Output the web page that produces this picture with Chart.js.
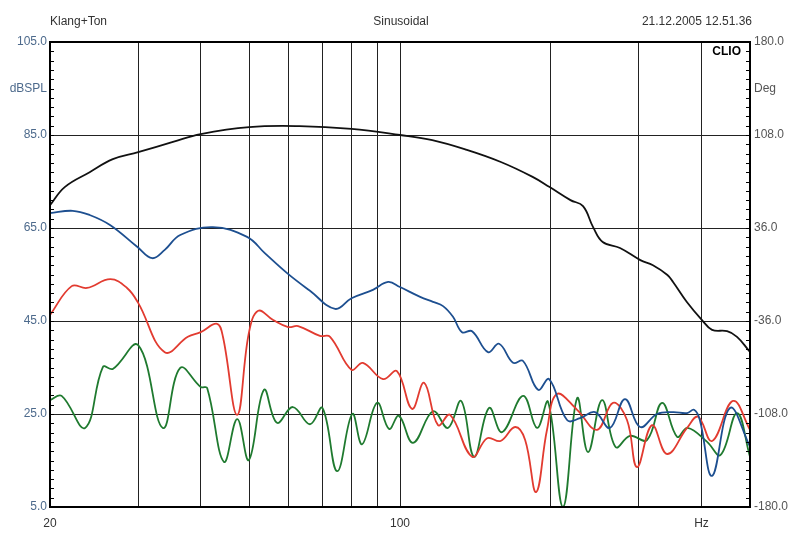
<!DOCTYPE html>
<html>
<head>
<meta charset="utf-8">
<script src="https://cdn.jsdelivr.net/npm/chart.js@4"></script>
<style>
  body { margin: 0; background: #fff; }
  canvas { display: block; }
</style>
</head>
<body>
<canvas id="clio" width="800" height="560"></canvas>
<script>
// kopregel van de meting
const headerLeft = 'Klang+Ton';
const headerMid = 'Sinusoidal';
const headerRight = '21.12.2005 12.51.36';

// assen
const xTicks = [20, 30, 40, 50, 60, 70, 80, 90, 100, 200, 300, 400, 500];
const xLabels = { 20: '20', 100: '100', 400: 'Hz' };
const dbTicks = [5, 25, 45, 65, 85, 95, 105];
const degTicks = [-180, -108, -36, 36, 108, 144, 180];

// zwarte curve
const blackFreq = [20, 21.4, 24, 26.7, 30, 35.2, 40, 50, 63, 80, 100, 116, 136, 159, 184, 199, 219, 232, 243, 254, 275, 302, 320, 342, 351, 374, 401, 420, 450, 471, 496, 500];
const blackLevel = [69.9, 73.8, 77.0, 79.8, 81.3, 83.5, 85.2, 86.7, 86.9, 86.3, 85.0, 83.9, 81.8, 79.2, 76.0, 73.8, 71.0, 69.7, 65.2, 62.0, 60.7, 58.1, 57.0, 54.9, 53.4, 49.1, 45.2, 43.1, 42.8, 41.6, 38.8, 38.3];

// blauwe curve
const blueFreq = [20, 22.2, 24, 26.4, 29.9, 32, 33.9, 36.4, 42.3, 49.5, 53.7, 59.5, 66.1, 74.2, 80, 88.3, 94.7, 100, 109.7, 116.4, 121.9, 127.6, 133, 139.3, 149.9, 157.7, 168.2, 176.1, 188.7, 198.5, 215.6, 228.9, 245.2, 262.6, 281.4, 301.6, 326.1, 351.1, 374.3, 386.6, 397, 420, 456, 500];
const blueLevel = [68.2, 68.7, 67.8, 65.6, 60.9, 58.5, 60.3, 63.5, 65.2, 63.1, 59.6, 55.3, 51.5, 47.6, 49.9, 51.7, 53.4, 52.3, 50.2, 49.1, 48.2, 45.9, 42.6, 42.8, 38.3, 40.1, 36.0, 36.4, 30.2, 32.5, 23.7, 24.1, 25.4, 22.0, 28.2, 22.2, 25.0, 25.4, 25.2, 25.9, 23.7, 11.7, 26.3, 18.0];

// rode curve
const redFreq = [20, 22.1, 23.7, 26.4, 28.5, 30, 33.9, 37.7, 40, 43.1, 44.3, 47.3, 49.9, 52.1, 55.8, 59.8, 62.6, 69.2, 72.5, 80, 84.3, 92.5, 98.6, 105.7, 111.7, 119.1, 125.9, 139.3, 149.3, 158.8, 169.8, 177.8, 187, 196.6, 205.8, 225.8, 247.5, 266.3, 284, 297.4, 318.7, 341.5, 374.3, 393.8, 420.1, 462.5, 500];
const redLevel = [46.3, 52.5, 52.1, 54.0, 52.1, 48.9, 38.3, 41.6, 42.6, 44.4, 41.6, 24.8, 42.4, 47.2, 45.2, 43.7, 43.9, 41.8, 41.6, 34.5, 36.0, 32.5, 34.2, 26.1, 31.7, 22.6, 24.8, 15.8, 19.8, 19.2, 22.2, 19.4, 8.2, 21.6, 29.3, 25.9, 21.6, 27.4, 23.7, 13.6, 22.6, 16.4, 22.0, 24.4, 19.2, 27.8, 21.6];

// groene curve
const greenFreq = [20, 21.1, 23.5, 25.5, 26.7, 30, 33.6, 36.4, 40, 41.2, 44.5, 47.3, 49.9, 53.5, 56.8, 61.1, 66.1, 70, 74.9, 80.3, 84, 90, 95.1, 99.5, 106.2, 116.4, 124.7, 132.5, 140.6, 150.6, 159.9, 176.1, 187.8, 197.6, 211.6, 225.8, 237.4, 253.2, 269.5, 287.9, 311.4, 333.7, 357.6, 375.2, 410.5, 436.8, 471.1, 500];
const greenLevel = [28.0, 28.9, 22.0, 35.1, 34.7, 39.8, 22.0, 34.9, 30.8, 30.6, 14.7, 23.9, 15.1, 30.2, 23.1, 26.5, 22.8, 26.3, 12.7, 25.0, 18.5, 27.4, 21.8, 24.6, 18.8, 25.6, 22.0, 27.8, 15.8, 26.3, 21.1, 28.9, 22.0, 27.6, 5.0, 28.4, 16.8, 28.0, 17.9, 20.3, 19.4, 27.4, 20.1, 22.0, 19.0, 16.2, 25.2, 15.8];

const FONT = "'Liberation Sans', Arial, sans-serif";

function toPoints(freqs, levels) {
  return freqs.map((f, i) => ({ x: f, y: levels[i] }));
}

function curve(freqs, levels, color) {
  return {
    data: toPoints(freqs, levels),
    borderColor: color,
    borderWidth: 1.8,
    pointRadius: 0,
    tension: 0.4,
    fill: false
  };
}

// kader, kleine streepjes en teksten
const framePlugin = {
  id: 'frame',
  afterDraw(chart) {
    const ctx = chart.ctx;
    const a = chart.chartArea;
    const y = chart.scales.y;
    const y1 = chart.scales.y1;
    ctx.save();
    ctx.strokeStyle = '#000';
    ctx.lineWidth = 1;
    for (let v = 5; v <= 105; v += 2) {
      const py = Math.round(y.getPixelForValue(v)) + 0.5;
      ctx.beginPath();
      ctx.moveTo(a.left, py);
      ctx.lineTo(a.left + 4, py);
      ctx.stroke();
    }
    for (let d = -180; d <= 180.01; d += 7.2) {
      const py = Math.round(y1.getPixelForValue(d)) + 0.5;
      ctx.beginPath();
      ctx.moveTo(a.right - 4, py);
      ctx.lineTo(a.right, py);
      ctx.stroke();
    }
    ctx.lineWidth = 2;
    ctx.strokeRect(a.left, a.top, a.right - a.left, a.bottom - a.top);

    ctx.fillStyle = '#333';
    ctx.font = '12px ' + FONT;
    ctx.textBaseline = 'middle';
    ctx.textAlign = 'left';
    ctx.fillText(headerLeft, 50, 22);
    ctx.textAlign = 'center';
    ctx.fillText(headerMid, 401, 22);
    ctx.textAlign = 'right';
    ctx.fillText(headerRight, 752, 22);

    ctx.fillStyle = '#000';
    ctx.font = 'bold 12px ' + FONT;
    ctx.fillText('CLIO', a.right - 9, a.top + 10);
    ctx.restore();
  }
};

new Chart(document.getElementById('clio'), {
  type: 'line',
  data: {
    datasets: [
      curve(blackFreq, blackLevel, '#111111'),
      curve(blueFreq, blueLevel, '#1d4f90'),
      curve(redFreq, redLevel, '#e23b30'),
      curve(greenFreq, greenLevel, '#1f7a2f')
    ]
  },
  options: {
    responsive: false,
    animation: false,
    layout: { padding: { top: 42, left: 0, right: 0, bottom: 0 } },
    plugins: {
      legend: { display: false },
      tooltip: { enabled: false }
    },
    scales: {
      x: {
        type: 'logarithmic',
        min: 20,
        max: 500,
        afterBuildTicks: s => { s.ticks = xTicks.map(v => ({ value: v })); },
        afterFit: s => { s.height = 53; },
        grid: { color: '#222', lineWidth: 1, drawTicks: false },
        border: { display: false },
        ticks: {
          autoSkip: false,
          maxRotation: 0,
          padding: 9,
          color: '#333',
          font: { family: FONT, size: 12 },
          callback: v => xLabels[v] || ''
        }
      },
      y: {
        position: 'left',
        min: 5,
        max: 105,
        afterBuildTicks: s => { s.ticks = dbTicks.map(v => ({ value: v })); },
        afterFit: s => { s.width = 50; },
        grid: {
          drawTicks: false,
          lineWidth: 1,
          color: c => (c.tick && c.tick.value === 95) ? 'rgba(0,0,0,0)' : '#222'
        },
        border: { display: false },
        ticks: {
          padding: 3,
          color: '#4d6a8c',
          font: { family: FONT, size: 12 },
          callback: v => v === 95 ? 'dBSPL' : v.toFixed(1)
        }
      },
      y1: {
        position: 'right',
        min: -180,
        max: 180,
        afterBuildTicks: s => { s.ticks = degTicks.map(v => ({ value: v })); },
        afterFit: s => { s.width = 50; },
        grid: { drawOnChartArea: false, drawTicks: false },
        border: { display: false },
        ticks: {
          padding: 4,
          color: '#555',
          font: { family: FONT, size: 12 },
          callback: v => v === 144 ? 'Deg' : v.toFixed(1)
        }
      }
    }
  },
  plugins: [framePlugin]
});
</script>
</body>
</html>
